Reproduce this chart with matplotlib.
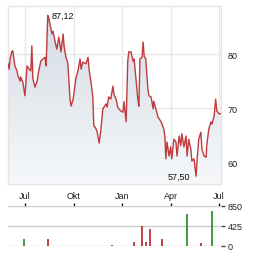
import numpy as np
import pandas as pd
import matplotlib
matplotlib.use("Agg")
import matplotlib.pyplot as plt
import matplotlib.dates as mdates
from matplotlib.colors import LinearSegmentedColormap

plt.rcParams['font.family'] = ['Liberation Sans', 'DejaVu Sans']

# price series
dates = pd.to_datetime([
    "2023-05-30", "2023-06-01", "2023-06-03", "2023-06-06", "2023-06-08", "2023-06-12",
    "2023-06-16", "2023-06-18", "2023-06-22", "2023-06-23", "2023-06-27", "2023-07-01",
    "2023-07-05", "2023-07-09", "2023-07-12", "2023-07-14", "2023-07-16", "2023-07-20",
    "2023-07-24", "2023-07-27", "2023-07-31", "2023-08-04", "2023-08-08", "2023-08-10",
    "2023-08-13", "2023-08-15", "2023-08-19", "2023-08-21", "2023-08-23", "2023-08-27",
    "2023-08-30", "2023-09-03", "2023-09-07", "2023-09-11", "2023-09-13", "2023-09-16",
    "2023-09-20", "2023-09-24", "2023-09-26", "2023-09-30", "2023-10-05", "2023-10-09",
    "2023-10-13", "2023-10-15", "2023-10-18", "2023-10-24", "2023-10-28", "2023-10-30",
    "2023-11-03", "2023-11-06", "2023-11-08", "2023-11-10", "2023-11-14", "2023-11-18",
    "2023-11-21", "2023-11-25", "2023-12-01", "2023-12-03", "2023-12-06", "2023-12-10",
    "2023-12-14", "2023-12-16", "2023-12-20", "2023-12-23", "2023-12-25", "2023-12-29",
    "2024-01-02", "2024-01-04", "2024-01-08", "2024-01-11", "2024-01-13", "2024-01-17",
    "2024-01-21", "2024-01-23", "2024-01-26", "2024-01-30", "2024-02-01", "2024-02-03",
    "2024-02-07", "2024-02-09", "2024-02-11", "2024-02-14", "2024-02-18", "2024-02-20",
    "2024-02-24", "2024-02-28", "2024-02-29", "2024-03-04", "2024-03-08", "2024-03-14",
    "2024-03-19", "2024-03-21", "2024-03-23", "2024-03-25", "2024-03-29", "2024-04-01",
    "2024-04-03", "2024-04-07", "2024-04-11", "2024-04-13", "2024-04-17", "2024-04-20",
    "2024-04-22", "2024-04-26", "2024-04-30", "2024-05-02", "2024-05-05", "2024-05-09",
    "2024-05-11", "2024-05-15", "2024-05-19", "2024-05-21", "2024-05-24", "2024-05-28",
    "2024-05-30", "2024-06-03", "2024-06-07", "2024-06-08", "2024-06-12", "2024-06-16",
    "2024-06-18", "2024-06-22", "2024-06-25", "2024-06-27", "2024-07-01", "2024-07-05",
])
prices = [
    78.2, 77.2, 79.1, 80.4, 80.6, 77.8,
    76.9, 75.9, 75.0, 75.8, 74.8, 72.3,
    77.8, 77.2, 76.9, 81.5, 75.4, 73.9,
    75.0, 76.9, 78.7, 79.1, 79.4, 77.8,
    87.12, 86.6, 84.6, 83.7, 84.2, 82.2,
    80.9, 83.1, 80.4, 83.7, 81.3, 79.6,
    78.2, 71.7, 70.4, 71.7, 75.4, 76.9,
    79.1, 77.2, 78.5, 78.2, 79.4, 77.2,
    74.5, 72.1, 66.7, 66.6, 65.8, 63.6,
    65.8, 69.9, 70.8, 70.2, 72.1, 71.7,
    74.1, 72.6, 71.7, 70.2, 69.9, 69.5,
    69.3, 71.2, 67.5, 78.7, 80.4, 80.4,
    78.7, 79.1, 75.9, 71.7, 70.4, 79.1,
    79.4, 82.2, 79.6, 79.1, 73.6, 72.3,
    72.1, 69.9, 71.3, 69.9, 68.4, 67.5,
    66.2, 64.9, 60.7, 63.8, 61.2, 62.9,
    60.7, 64.3, 63.8, 61.2, 64.9, 63.1,
    65.3, 62.9, 64.9, 61.2, 64.3, 62.5,
    60.3, 60.7, 57.5, 60.7, 64.3, 65.6,
    62.5, 61.2, 61.0, 63.1, 66.2, 67.5,
    67.1, 68.6, 71.7, 69.5, 69.0, 69.0,
]

# volume bars
vol_dates = pd.to_datetime([
    "2023-06-29", "2023-08-14", "2023-12-12", "2024-01-23", "2024-02-07", "2024-02-15",
    "2024-02-22", "2024-03-16", "2024-05-02", "2024-05-29", "2024-06-18",
])
vol_values = [150, 150, 20, 90, 430, 90, 360, 150, 680, 65, 745]
vol_up = [True, False, False, False, False, False, False, False, True, False, True]

tick_dates = pd.to_datetime(["2023-07-01", "2023-10-01", "2024-01-01", "2024-04-01", "2024-07-01"])
tick_labels = ["Jul", "Okt", "Jan", "Apr", "Jul"]
price_ticks = [60, 70, 80]
vol_ticks = [0, 425, 850]

xmin, xmax = pd.Timestamp("2023-05-30"), pd.Timestamp("2024-07-05")
ymin, ymax = 56.06, 88.84

W, H = 264, 255
fig = plt.figure(figsize=(W / 100, H / 100), dpi=100)
ax = fig.add_axes([8 / W, 1 - 185 / H, 213 / W, 178 / H])
axv = fig.add_axes([8 / W, 1 - 247 / H, 213 / W, 40 / H])

# gradient fill under the line
xn = mdates.date2num(dates)
poly = ax.fill_between(dates, prices, ymin, color='none', lw=0)
cmap = LinearSegmentedColormap.from_list('g', ['#f6f8fa', '#d2dae3'])
grad = np.linspace(0, 1, 256).reshape(-1, 1)
im = ax.imshow(grad, cmap=cmap, aspect='auto', origin='lower',
               extent=[mdates.date2num(xmin), mdates.date2num(xmax), ymin, ymax], zorder=1)
im.set_clip_path(poly.get_paths()[0], transform=ax.transData)
ax.plot(dates, prices, color='#bf3b3e', lw=1.0, zorder=3)

ax.set_xlim(xmin, xmax)
ax.set_ylim(ymin, ymax)
ax.set_xticks(tick_dates)
ax.set_xticklabels(tick_labels)
ax.set_yticks(price_ticks)
ax.yaxis.tick_right()
ax.tick_params(length=0, labelsize=6.5, colors='#222222')
ax.tick_params(axis='x', pad=5)
ax.tick_params(axis='y', pad=5)
ax.grid(True, color='#e8e8e8', lw=1)
ax.set_axisbelow(True)
for s in ax.spines.values():
    s.set_color('#e4e4e4')
    s.set_linewidth(1)

# high / low labels
i_max = int(np.argmax(prices))
i_min = int(np.argmin(prices))
ax.annotate(f"{prices[i_max]:.2f}".replace('.', ','), (dates[i_max], prices[i_max]),
            xytext=(3, 0), textcoords='offset points', ha='left', va='center',
            fontsize=6.5, color='#111111')
ax.annotate(f"{prices[i_min]:.2f}".replace('.', ','), (dates[i_min], prices[i_min]),
            xytext=(-4, 0), textcoords='offset points', ha='right', va='center',
            fontsize=6.5, color='#111111')

# volume panel
cols = ['#1e8a1e' if u else '#b52025' for u in vol_up]
axv.vlines(vol_dates, 0, vol_values, colors=cols, lw=1.2, zorder=3)
axv.set_xlim(xmin, xmax)
axv.set_ylim(0, 850)
axv.set_yticks(vol_ticks)
axv.set_yticklabels([str(v) for v in vol_ticks])
axv.yaxis.tick_right()
axv.xaxis.tick_top()
axv.set_xticks(tick_dates)
axv.tick_params(axis='x', length=2.5, width=1, color='#111111', labeltop=False, direction='out')
axv.tick_params(axis='y', length=3, width=1, color='#444444', labelsize=6.5, colors='#222222', pad=2)
axv.grid(True, axis='y', color='#cccccc', lw=1)
axv.set_axisbelow(True)
for s in axv.spines.values():
    s.set_visible(False)

fig.savefig("out.png", dpi=100)
